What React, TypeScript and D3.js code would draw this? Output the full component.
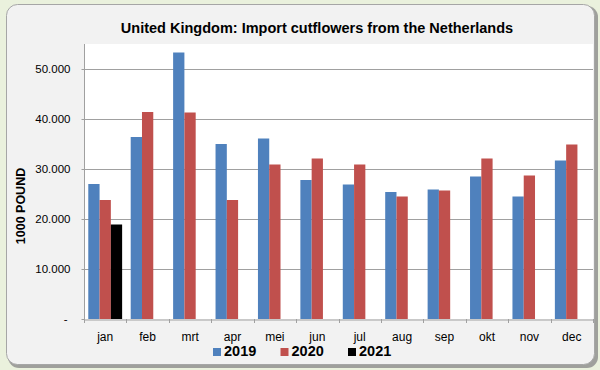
import React, { useRef, useEffect } from "react";
import * as d3 from "d3";

const months = ["jan", "feb", "mrt", "apr", "mei", "jun", "jul", "aug", "sep", "okt", "nov", "dec"];
const seriesNames = ["2019", "2020", "2021"];
const values2019 = [27000, 36400, 53300, 35000, 36100, 27800, 26900, 25400, 25900, 28500, 24500, 31700];
const values2020 = [23800, 41400, 41300, 23800, 30900, 32100, 30900, 24500, 25700, 32100, 28700, 34900];
const values2021 = [18900];
const yTicks = [0, 10000, 20000, 30000, 40000, 50000];
const colors = ["#4f81bd", "#c0504d", "#000000"];

const App: React.FC = () => {
    const svgRef = useRef<SVGSVGElement | null>(null);

    useEffect(() => {
        const width = 600;
        const height = 370;
        const svg = d3.select(svgRef.current!);
        svg.selectAll("*").remove();

        // background + panel
        svg.append("rect").attr("width", width).attr("height", height).attr("fill", "#eaf1dd");
        svg.append("rect")
            .attr("x", 8).attr("y", 6).attr("width", 590).attr("height", 362)
            .attr("rx", 11).attr("fill", "#8c8c8c").attr("opacity", 0.8);
        svg.append("rect")
            .attr("x", 6.5).attr("y", 4.5).attr("width", 588).attr("height", 360)
            .attr("rx", 11).attr("fill", "#f2f2f2").attr("stroke", "#a6a6a6");

        const x = d3.scaleBand<string>().domain(months).range([84, 593]);
        const inner = d3.scaleBand<string>().domain(seriesNames).range([0, x.bandwidth()]).paddingOuter(0.38);
        const y = d3.scaleLinear().domain([0, 55000]).range([319, 44]);

        // plot area
        svg.append("rect")
            .attr("x", 84).attr("y", 44).attr("width", 593 - 84).attr("height", 319 - 44)
            .attr("fill", "#ffffff");

        svg.append("g")
            .selectAll("line")
            .data(yTicks.slice(1))
            .join("line")
            .attr("x1", 84).attr("x2", 593)
            .attr("y1", (d) => Math.round(y(d)) + 0.5).attr("y2", (d) => Math.round(y(d)) + 0.5)
            .attr("stroke", "#a0a0a0");

        // bars
        const series = [values2019, values2020, values2021];
        series.forEach((vals, si) => {
            svg.append("g")
                .selectAll("rect")
                .data(vals)
                .join("rect")
                .attr("x", (_, i) => x(months[i])! + inner(seriesNames[si])!)
                .attr("width", inner.bandwidth())
                .attr("y", (d) => y(d))
                .attr("height", (d) => y(0) - y(d))
                .attr("fill", colors[si]);
        });

        // y axis
        const fmt = (d: number) => (d === 0 ? "-" : d3.format(",")(d).replace(/,/g, "."));
        const yAxis = svg.append("g")
            .attr("transform", "translate(84.5,0)")
            .call(d3.axisLeft(y).tickValues(yTicks).tickSize(3).tickPadding(11).tickFormat((d) => fmt(d as number)));
        yAxis.select(".domain").attr("stroke", "#a0a0a0").attr("d", `M0,${y(0)}V44`);
        yAxis.selectAll(".tick line").attr("stroke", "#a0a0a0");
        yAxis.selectAll("text")
            .attr("font-family", "Liberation Sans, Arial, sans-serif")
            .attr("font-size", 11.5)
            .attr("fill", "#000")
            .attr("dx", (d) => ((d as number) === 0 ? -3 : 0));

        // x axis
        const xAxis = svg.append("g")
            .attr("transform", `translate(0,${Math.round(y(0)) + 0.5})`)
            .call(d3.axisBottom(x).tickSize(0).tickPadding(13));
        xAxis.select(".domain").attr("stroke", "#a0a0a0");
        xAxis.selectAll("text")
            .attr("font-family", "Liberation Sans, Arial, sans-serif")
            .attr("font-size", 12)
            .attr("fill", "#000");
        svg.append("g")
            .selectAll("line")
            .data(months.concat([""]))
            .join("line")
            .attr("x1", (_, i) => Math.round(84 + i * x.step()) + 0.5)
            .attr("x2", (_, i) => Math.round(84 + i * x.step()) + 0.5)
            .attr("y1", y(0)).attr("y2", y(0) + 4)
            .attr("stroke", "#a0a0a0");

        // title
        svg.append("text")
            .attr("x", 317).attr("y", 33)
            .attr("text-anchor", "middle")
            .attr("font-family", "Liberation Sans, Arial, sans-serif")
            .attr("font-size", 14.5).attr("font-weight", "bold")
            .text("United Kingdom: Import cutflowers from the Netherlands");

        // y label
        svg.append("text")
            .attr("transform", "translate(25,206) rotate(-90)")
            .attr("text-anchor", "middle")
            .attr("font-family", "Liberation Sans, Arial, sans-serif")
            .attr("font-size", 12.5).attr("font-weight", "bold")
            .text("1000 POUND");

        // legend
        const legend = svg.append("g")
            .selectAll("g")
            .data(seriesNames)
            .join("g")
            .attr("transform", (_, i) => `translate(${213 + i * 67.5},0)`);
        legend.append("rect")
            .attr("x", 0).attr("y", 348).attr("width", 8).attr("height", 8)
            .attr("fill", (_, i) => colors[i]);
        legend.append("text")
            .attr("x", 11).attr("y", 356)
            .attr("font-family", "Liberation Sans, Arial, sans-serif")
            .attr("font-size", 14.5).attr("font-weight", "bold")
            .text((d) => d);
    }, []);

    return (
        <svg
            ref={svgRef}
            width={600}
            height={370}
            style={{ position: "absolute", left: 0, top: 0 }}
        />
    );
};

export default App;
